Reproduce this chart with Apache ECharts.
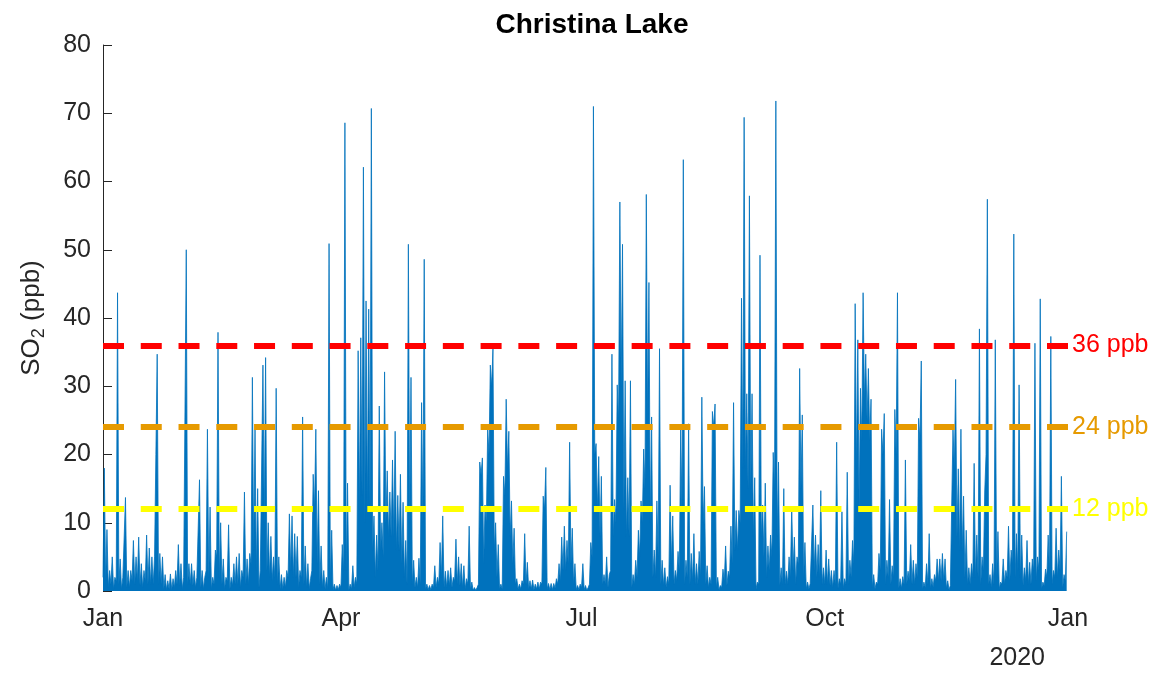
<!DOCTYPE html>
<html><head><meta charset="utf-8">
<script src="https://cdn.jsdelivr.net/npm/echarts@6/dist/echarts.min.js"></script>
<style>html,body{margin:0;padding:0;background:#fff}#c{width:1163px;height:677px}</style>
</head><body><div id="c"></div>
<script>
// x axis: day of year 2019 (0 = 1 Jan 2019, 365 = 1 Jan 2020)
const tickDays = [0, 90, 181, 273, 365];
const tickLabels = ['Jan', 'Apr', 'Jul', 'Oct', 'Jan'];
const yearLabel = '2020';
const titleText = 'Christina Lake';
const thresholds = [36, 24, 12];
const thresholdLabels = ['36 ppb', '24 ppb', '12 ppb'];

// daily maximum SO2 (ppb), one value per day
const dailyPeak = [
  // Jan
  18,9,3,5,2,43.7,4.7,2,13.7,3,3,7.4,5,7.9,4,3,8.2,6.3,5,5,34.7,5.5,5,2.4,1.5,2.5,1.8,3,6.8,4,2,
  // Feb
  50,4,4,3,2,16.3,3,2,23.7,12.3,2,6,37.9,10,4.7,2,9.7,2,4,5,5.5,3,14.5,4.7,5.5,31.3,23.7,15,
  // Mar
  3,33.1,34.2,10,8,5,29.7,5,2.4,2,3,11.3,11,8.4,8,3,25.5,6.6,4,1.8,17.1,23.7,14.7,6.6,3,2,50.9,8.9,1,0.8,1,
  // Apr
  6.8,68.6,15.8,1,3.7,2,35.2,37.1,62.1,42.5,41.3,70.7,11,8.2,27.1,10,32.1,17.6,14.5,19.2,23.4,14,17.1,13,7.4,50.8,31.3,4.5,2,4.8,
  // May
  27.6,48.6,1,0.8,1,3.7,2,7.1,11,2.9,3,3.4,2,7.6,5,4,3.7,1.8,9.5,1.3,0.5,0.5,18.9,19.5,12.6,23.7,33.1,35.5,10,6.8,1,
  // Jun
  16.8,28.1,23.4,13.2,9.2,1.8,1,1.5,8.4,4.2,1.5,1.6,1,1.3,1.3,13.9,18.1,1.1,1.1,1.1,1.8,4,7.9,9.5,7.4,21.8,9.2,4,0.8,1,
  // Jul
  4,0.8,0.5,7.1,71,21.6,19.7,16.8,2.4,5,2.4,34.7,13.4,30.2,57,50.8,30.8,16.6,30.8,2.4,4.5,8.9,13.2,20.8,58.1,45.2,25.5,6,13.2,35.5,4.5,
  // Aug
  3.4,2.1,15.5,11,3,5.8,23.7,63.2,4.5,24.5,5.5,8.4,4,5.8,28.4,15.3,3.7,2,26.3,27.4,2,0.8,3.2,6.6,2.9,9.5,27.6,11.8,11.8,42.9,69.4,
  // Sep
  28.9,57.9,28.9,16.6,1.3,49.2,12.6,15.8,6.6,8.2,20.3,71.8,18.9,3.4,15,2.9,5,12.4,7.9,5,32.6,25.8,7.1,1.3,1.1,12.6,8.2,6.8,14.7,3.4,
  // Oct
  6,4.7,3,3,21.8,1.8,11.6,1.8,17.4,4.5,7.4,42.1,36.8,29.7,43.7,34.7,32.6,28.1,2.4,1.3,5.5,23.7,26,4.5,13.4,3.7,26.6,43.7,1.8,2.1,19.2,
  // Nov
  2.9,6.8,4.5,4,25.3,33.7,1.3,4,8.4,1.8,2.4,4.7,4.7,5.5,4.7,1.5,0.8,23.7,31,17.9,23.7,13.9,8.9,3.4,4,18.7,8.2,38.4,5,14.5,
  // Dec
  57.4,2.4,4,36.8,8.7,1.3,4.7,3,9.5,6,52.3,8.4,30.2,8.2,3.4,7.4,4.2,4.7,36.3,5,42.8,1.3,3.2,8.2,37.3,3,9.2,6,16.8,2.4,8.7
];

// daily low level SO2 (ppb), one value per day
const dailyLow = [
  // Jan
  2,1.5,0.5,1,0.3,1.5,1,0.3,2,0.5,0.5,1.5,1,1.5,0.8,0.5,1.5,1,1,1,20,1,1,0.3,0.2,0.3,0.2,0.5,1,0.8,0.3,
  // Feb
  2,1,1,0.8,0.5,2,0.5,0.3,3,2,0.3,1,5,2,1,0.3,1.5,0.3,0.8,1,1,0.5,2,1,1,4,6,3,
  // Mar
  0.5,3,10,3,2,1.5,2,1,0.3,0.3,0.5,2,3,2,2,0.5,2,1,0.5,0.3,3,12,4,1,0.5,0.3,0.3,1.5,0.2,0.1,0.2,
  // Apr
  0.5,3,3,0.2,0.3,0.5,1,12,14,10,12,12,6,2,3,6,5,10,8,8,8,6,6,4,2,1,10,1,0.5,0.5,
  // May
  1,10,0.3,0.2,0.2,0.5,0.5,1,2,0.5,0.5,0.8,0.5,1.5,1,0.8,0.5,0.3,1,0.2,0.1,0.1,1,17,4,10,20,30,6,2,0.3,
  // Jun
  0.3,14,18,8,4,1,0.3,0.3,1,1,0.3,0.3,0.2,0.3,0.3,1,12,0.3,0.2,0.2,0.4,1,1.5,3,3,4,4,1,0.2,0.2,
  // Jul
  0.5,0.2,0.1,1,5,20,12,8,1,1,0.5,3,8,10,25,30,12,8,8,0.5,1,2,5,10,15,25,10,2,2,5,1,
  // Aug
  0.8,0.5,1,4,1,1.5,3,12,1,2,1,1.5,1,1,2,10,1,0.5,1,24,0.5,0.2,0.5,1.5,0.8,2,4,6,6,10,18,
  // Sep
  18,15,15,8,0.3,1,8,5,2,3,5,15,8,0.8,1,1,1,2,3,1,4,15,2,0.3,0.3,1,3,2,2,1,
  // Oct
  1,1,0.8,0.5,1,0.4,1,0.4,1,1,2,4,18,12,22,28,25,22,0.5,0.3,1,3,20,1,2,1,2,20,0.4,0.4,1,
  // Nov
  1,1.5,1,1,2,22,0.3,0.5,1,0.4,0.6,1.5,1.5,1.5,1.5,0.4,0.2,1,18,8,6,6,2,1,1,2,2,2,1,3,
  // Dec
  20,1,0.5,1,2,0.3,1,1,2,1.5,4,2,3,2,0.8,1.5,1,1,3,1.5,3,0.3,0.8,2,3,1,2,2,3,0.5,1.5
];

const seriesData = [];
for (let d = 0; d < dailyPeak.length; d++) {
  seriesData.push([d, dailyLow[d]]);
  seriesData.push([d + 0.5, dailyPeak[d]]);
}

const FONT = '"Liberation Sans", Arial, Helvetica, sans-serif';
const TXT = '#262626';
const thrColors = ['#FF0000', '#E69A00', '#FFFF00'];

const chart = echarts.init(document.getElementById('c'), null, {renderer: 'canvas'});
chart.setOption({
  animation: false,
  backgroundColor: '#ffffff',
  title: {
    text: titleText, left: 587, top: 6, textAlign: 'center',
    textStyle: {fontFamily: FONT, fontWeight: 'bold', fontSize: 28, color: '#000'}
  },
  grid: {left: 103, right: 95, top: 45, bottom: 86, containLabel: false},
  xAxis: {
    type: 'value', min: 0, max: 365,
    axisLine: {show: false}, axisTick: {show: false}, splitLine: {show: false},
    axisLabel: {
      customValues: tickDays,
      formatter: v => tickLabels[tickDays.indexOf(v)],
      fontFamily: FONT, fontSize: 25, color: TXT, margin: 16
    }
  },
  yAxis: {
    type: 'value', min: 0, max: 80, interval: 10,
    axisLine: {show: true, lineStyle: {color: TXT, width: 1}},
    axisTick: {show: true, inside: true, length: 9, lineStyle: {color: TXT}},
    splitLine: {show: false},
    axisLabel: {fontFamily: FONT, fontSize: 25, color: TXT, margin: 12},
    name: '{a|SO}{s|2}{a| (ppb)}',
    nameLocation: 'middle', nameRotate: 90, nameGap: 55,
    nameTextStyle: {
      fontFamily: FONT, color: TXT,
      rich: {
        a: {fontFamily: FONT, fontSize: 26, color: TXT, lineHeight: 32, verticalAlign: 'middle'},
        s: {fontFamily: FONT, fontSize: 18, color: TXT, lineHeight: 18, verticalAlign: 'bottom'}
      }
    }
  },
  series: [{
    type: 'line',
    data: seriesData,
    showSymbol: false, symbol: 'none',
    lineStyle: {color: '#0072BD', width: 0.8},
    areaStyle: {color: '#0072BD', opacity: 1},
    z: 2,
    markLine: {
      silent: true, symbol: ['none', 'none'], animation: false,
      data: thresholds.map((t, i) => ({
        yAxis: t,
        lineStyle: {color: thrColors[i], type: [21, 16.76], width: 6},
        label: {show: true, position: 'end', formatter: thresholdLabels[i],
                color: thrColors[i], fontFamily: FONT, fontSize: 25, distance: 4}
      }))
    }
  }],
  graphic: [{
    type: 'text', right: 118, top: 646,
    style: {text: yearLabel, fontFamily: FONT, fontSize: 25, fill: TXT}
  }]
});
</script>
</body></html>
